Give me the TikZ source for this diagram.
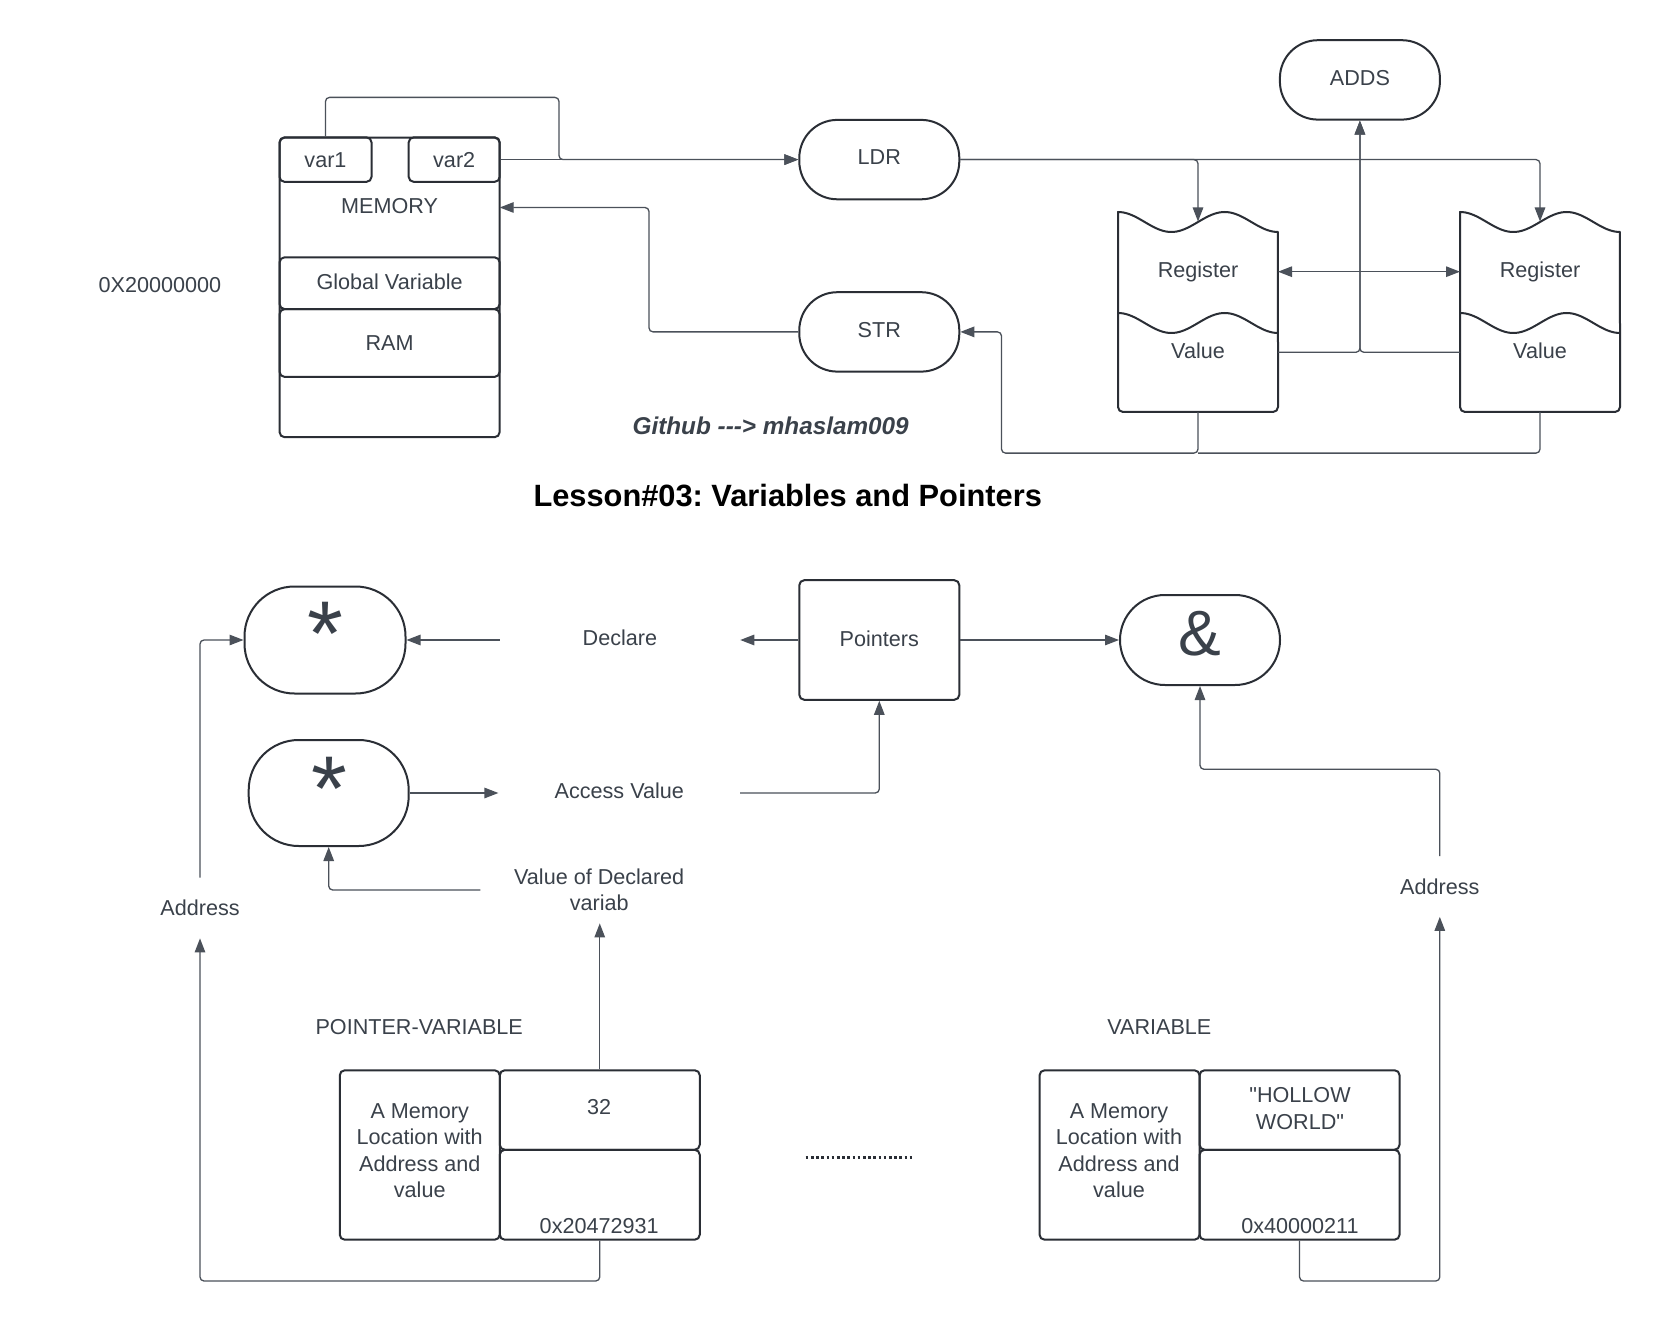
\documentclass[tikz,border=0pt]{standalone}
\usepackage{fontspec}
\setmainfont{Liberation Sans}[Ligatures=TeXOff]
\usetikzlibrary{arrows.meta,calc}
\definecolor{txtc}{HTML}{3A414A}
\definecolor{edgec}{HTML}{2A2E35}
\definecolor{wirec}{HTML}{4B515A}
\frenchspacing
\newcommand{\regdraw}[1]{%
  \draw[draw=edgec, line width=2pt, line join=round]
    plot[domain=0:1, samples=61, variable=\t] ({#1+160*\t},{212+10*(1-cos(540*\t))})
    [rounded corners=5pt] -- ({#1+160},412) -- (#1,412) [sharp corners] -- cycle;
  \draw[draw=edgec, line width=2pt]
    plot[domain=0:1, samples=61, variable=\t] ({#1+160*\t},{313+10*(1-cos(540*\t))});
}
\begin{document}
\begin{tikzpicture}[x=1pt,y=-1pt,
  every node/.style={text=txtc, inner sep=0pt, font=\fontsize{21.6}{26.5}\selectfont, text height=15.5pt, text depth=0pt},
  box/.style={draw=edgec, line width=2pt, rounded corners=5pt},
  pill/.style={draw=edgec, line width=2pt, rounded corners=#1},
  multi/.style={align=center, text height={}, text depth={}},
  plain/.style={draw=wirec, line width=1.3pt, rounded corners=4pt},
  conn/.style={plain, -{Triangle[length=14pt,width=10.5pt]}},
]
\fill[white] (0,0) rectangle (1660,1321);
\useasboundingbox (0,0) rectangle (1660,1321);

% ---------- memory ----------
\node[box, minimum width=220pt, minimum height=299.6pt] (mem) at (389.6,287.4) {};
\node[box, minimum width=92pt, minimum height=44.5pt] (var1) at (325.5,159.6) {var1};
\node[box, minimum width=91pt, minimum height=44.5pt] (var2) at (454.2,159.6) {var2};
\node (memlbl) at (389.6,205.4) {MEMORY};
\node[box, minimum width=220pt, minimum height=51.8pt, text depth=2pt] (glob) at (389.6,283.2) {Global Variable};
\node[box, minimum width=220pt, minimum height=67.8pt] (ram) at (389.6,343) {RAM};
\node (addr0) at (159.9,284.8) {0X20000000};

% ---------- instructions ----------
\node[pill=38pt, minimum width=160pt, minimum height=79.4pt, text depth=5pt] (ldr) at (879.3,159.6) {LDR};
\node[pill=38pt, minimum width=160pt, minimum height=79.4pt, text depth=5pt] (str) at (879.3,331.9) {STR};
\node[pill=38pt, minimum width=160pt, minimum height=79.4pt, text depth=5pt] (adds) at (1359.9,79.9) {ADDS};

% ---------- registers ----------
\node[minimum width=160pt, minimum height=200pt] (lreg) at (1198,312) {};
\node[minimum width=160pt, minimum height=200pt] (rreg) at (1540,312) {};
\regdraw{1118}
\regdraw{1460}
\node (lregt) at (1198,269.3) {Register};
\node (lregv) at (1198,351) {Value};
\node (rregt) at (1540,269.3) {Register};
\node (rregv) at (1540,351) {Value};

\coordinate (lregtop) at (1198,221.5);
\coordinate (rregtop) at (1540,221.5);
\coordinate (lregin) at (1278,271.7);
\coordinate (rregin) at (1460,271.7);
\coordinate (lvalout) at (1278,352.3);
\coordinate (rvalout) at (1460,352.3);
\coordinate (memin) at (499.7,207.5);
\coordinate (botline) at (1198,453.1);

\draw[conn] (var1.north) |- (559,97.4) |- (ldr.west);
\draw[conn] (var2.east) -- (ldr.west);
\draw[conn] (str.west) -| (649,207.5) -- (memin);
\draw[conn] (ldr.east) -| (lregtop);
\draw[conn] (ldr.east) -| (rregtop);
\draw[conn] (lvalout) -| (adds.south);
\draw[conn] (rvalout) -| (adds.south);
\draw[conn] (adds.south |- lregin) -- (lregin);
\draw[conn] (adds.south |- rregin) -- (rregin);
\draw[conn] (lreg.south) |- (1001.5,453.1) |- (str.east);
\draw[plain] (rreg.south) |- (botline);

% ---------- titles ----------
\node[font=\bfseries\itshape\fontsize{24.3}{29}\selectfont, text height=17.4pt] (gh) at (770.7,425.6) {Github ---> mhaslam009};
\node[text=black, font=\bfseries\fontsize{30.8}{36}\selectfont, text height=22pt] (title) at (787.7,495.5) {Lesson\#03: Variables and Pointers};

% ---------- pointers section ----------
\node[pill=50pt, minimum width=161pt, minimum height=107pt] (star1) at (325,640) {};
\node[pill=50pt, minimum width=160pt, minimum height=106pt] (star2) at (328.7,793) {};
\node[font=\fontsize{92}{92}\selectfont, anchor=base, text height={}, text depth={}] (ast1) at (325,665.5) {*};
\node[font=\fontsize{92}{92}\selectfont, anchor=base, text height={}, text depth={}] (ast2) at (329.3,820.5) {*};
\node[box, minimum width=160pt, minimum height=119.6pt, text depth=2pt] (ptr) at (879.3,640) {Pointers};
\node[pill=45pt, minimum width=160pt, minimum height=90pt] (amp) at (1200,640) {};
\node[font=\fontsize{64}{64}\selectfont, text height={}, text depth={}] (ampt) at (1200,634) {\&};

\node[minimum width=240.3pt, minimum height=40pt, text depth=5pt] (decl) at (619.9,640) {Declare};
\node[minimum width=241.4pt, minimum height=40pt, text depth=5pt] (acc) at (619.3,793) {Access Value};
\node[multi, minimum width=237.2pt, minimum height=66.4pt] (vdecl) at (599.2,890) {Value of Declared\\variab};
\node[minimum height=60.4pt, minimum width=80pt] (addrL) at (200,908) {Address};
\node[minimum height=60.4pt, minimum width=80pt] (addrR) at (1439.8,886.5) {Address};

\node (pvlbl) at (419.2,1027) {POINTER-VARIABLE};
\node (vlbl) at (1159.3,1027) {VARIABLE};

\node[box, minimum width=160pt, minimum height=169.4pt] (pvloc) at (419.75,1155) {};
\node[multi] (pvloct) at (419.75,1150.8) {A Memory\\Location with\\Address and\\value};
\node[box, minimum width=200pt, minimum height=79.5pt] (pvval) at (599.75,1110) {};
\node (pvvalt) at (599.2,1106.3) {32};
\node[box, minimum width=200pt, minimum height=89.9pt] (pvaddr) at (599.75,1194.75) {};
\node (pvaddrt) at (599.2,1226) {0x20472931};

\node[box, minimum width=160pt, minimum height=169.4pt] (vloc) at (1119.55,1155) {};
\node[multi] (vloct) at (1119,1150.8) {A Memory\\Location with\\Address and\\value};
\node[box, minimum width=200pt, minimum height=79.5pt] (vval) at (1299.55,1110) {};
\node[multi] (vvalt) at (1300,1108.5) {"HOLLOW\\WORLD"};
\node[box, minimum width=200pt, minimum height=89.9pt] (vaddr) at (1299.55,1194.75) {};
\node (vaddrt) at (1300,1226) {0x40000211};

\coordinate (dotA) at (805.7,1157.2);
\coordinate (dotB) at (913.7,1157.2);
\draw[draw=edgec, line width=3pt, dash pattern=on 2.6pt off 2.6pt] (dotA) -- (dotB);

\draw[conn] (ptr.west) -- (decl.east);
\draw[conn] (decl.west) -- (star1.east);
\draw[conn] (ptr.east) -- (amp.west);
\draw[conn] (star2.east) -- (acc.west);
\draw[conn] (acc.east) -| (ptr.south);
\draw[conn] (vdecl.west) -| (star2.south);
\draw[conn] (pvval.north) -- (pvval.north |- vdecl.south);
\draw[conn] (addrL.north) |- (star1.west);
\draw[conn] (pvaddr.south) -- ++(0,40.3) -| (addrL.south);
\draw[conn] (addrR.north) -- ++(0,-86.8) -| (amp.south);
\draw[conn] (vaddr.south) -- ++(0,40.3) -| (addrR.south);
\end{tikzpicture}
\end{document}
